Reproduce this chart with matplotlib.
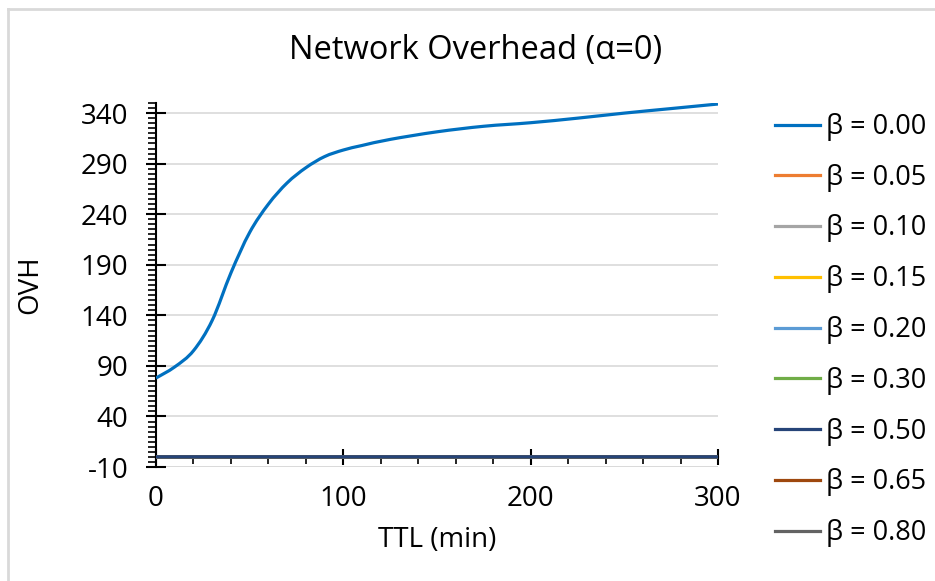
import numpy as np
import matplotlib.pyplot as plt
from matplotlib.ticker import MultipleLocator
from matplotlib.lines import Line2D
from matplotlib.path import Path
from matplotlib.patches import PathPatch

plt.rcParams['font.family'] = ['Open Sans', 'DejaVu Sans']
plt.rcParams['axes.unicode_minus'] = False

ttl = [0, 10, 20, 30, 40, 50, 60, 70, 80, 90, 100, 110, 125, 150, 175,
       200, 225, 250, 275, 300]
ovh_b000 = [78, 89, 105, 135, 182, 222, 250, 271, 286, 297, 303.5, 308, 314,
            321.5, 327, 330.5, 335, 340, 344.5, 349]
flat = [0] * len(ttl)

betas = ['0.00', '0.05', '0.10', '0.15', '0.20', '0.30', '0.50', '0.65', '0.80']
colors = ['#0070C0', '#ED7D31', '#A5A5A5', '#FFC000', '#5B9BD5', '#70AD47',
          '#264478', '#9E480E', '#636363']
series = [ovh_b000] + [flat] * 8


def smooth_path(x, y):
    # Catmull-Rom style bezier through the points (like a "smoothed line")
    p = np.column_stack([x, y]).astype(float)
    n = len(p)
    verts = [p[0]]
    codes = [Path.MOVETO]
    for i in range(n - 1):
        p0 = p[i - 1] if i > 0 else p[i]
        p3 = p[i + 2] if i + 2 < n else p[i + 1]
        c1 = p[i] + (p[i + 1] - p0) / 6
        c2 = p[i + 1] - (p3 - p[i]) / 6
        verts += [c1, c2, p[i + 1]]
        codes += [Path.CURVE4] * 3
    return Path(verts, codes)


fig = plt.figure(figsize=(9.35, 5.81), dpi=100)
ax = fig.add_axes([156 / 935, 1 - 467 / 581, (718 - 156) / 935, (467 - 103) / 581])

for b, c, y in zip(betas, colors, series):
    z = 4 if b == '0.50' else 3
    ax.add_patch(PathPatch(smooth_path(ttl, y), fill=False, edgecolor=c,
                           lw=2.3, zorder=z, capstyle='butt'))

ax.set_xlim(0, 300)
ax.set_ylim(-10, 350)
ax.set_yticks(np.arange(-10, 341, 50))
ax.yaxis.set_minor_locator(MultipleLocator(5))
ax.xaxis.set_major_locator(MultipleLocator(100))
ax.xaxis.set_minor_locator(MultipleLocator(20))

ax.grid(axis='y', color='#D9D9D9', lw=1.2, zorder=0)
ax.set_axisbelow(True)
for s in ['top', 'right']:
    ax.spines[s].set_visible(False)
ax.spines['bottom'].set_position(('data', 0))
ax.spines['left'].set_linewidth(1.5)
ax.spines['bottom'].set_linewidth(1.5)
ax.axhline(-10, color='#D9D9D9', lw=1.2, zorder=0)

ax.tick_params(axis='y', which='major', direction='inout', length=14, width=1.5,
               labelsize=20, pad=13)
ax.tick_params(axis='y', which='minor', direction='out', length=6, width=1.2)
ax.tick_params(axis='x', which='major', direction='inout', length=12, width=1.5,
               labelsize=20, pad=14)
ax.tick_params(axis='x', which='minor', direction='out', length=5, width=1.2)

ax.set_xlabel('TTL (min)', fontsize=20, va='center')
ax.xaxis.set_label_coords(0.5, (467 - 540) / 364)
ax.set_ylabel('OVH', fontsize=20, va='center')
ax.yaxis.set_label_coords((30 - 156) / 562, 0.5)
fig.text(476 / 935, 1 - 50 / 581, 'Network Overhead (α=0)', fontsize=23.5,
         ha='center', va='center')

handles = [Line2D([0], [0], color=c, lw=2.3) for c in colors]
labels = ['β = ' + b for b in betas]
fig.legend(handles, labels, loc='upper left', bbox_to_anchor=(775 / 935, 1 - 113 / 581),
           frameon=False, fontsize=19.5, handlelength=1.65, handletextpad=0.25,
           labelspacing=0.84, borderpad=0, borderaxespad=0)

# light chart-area border along the left and top edges
fig.add_artist(Line2D([8 / 935, 8 / 935], [0, 1 - 9 / 581], color='#D9D9D9', lw=2,
                      transform=fig.transFigure))
fig.add_artist(Line2D([8 / 935, 1], [1 - 9 / 581, 1 - 9 / 581], color='#D9D9D9', lw=2,
                      transform=fig.transFigure))

fig.savefig('out.png', dpi=100)
